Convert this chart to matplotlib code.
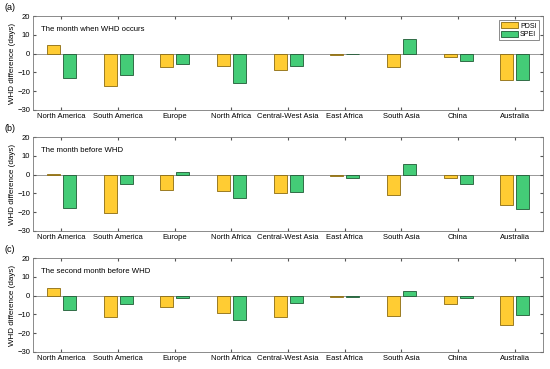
import numpy as np
import matplotlib.pyplot as plt

regions = ['North America', 'South America', 'Europe', 'North Africa',
           'Central-West Asia', 'East Africa', 'South Asia', 'China', 'Australia']

# WHD difference (days)
pdsi_a = [4.4, -17.0, -7.3, -6.7, -8.5, -0.9, -7.3, -1.8, -13.8]
spei_a = [-12.9, -11.2, -5.7, -15.6, -6.4, -0.4, 7.6, -3.7, -13.8]
pdsi_b = [0.4, -20.3, -8.1, -8.6, -9.9, -0.7, -11.0, -1.8, -16.0]
spei_b = [-18.0, -4.9, 1.6, -12.4, -9.0, -1.8, 5.6, -5.0, -18.3]
pdsi_c = [3.8, -11.6, -6.3, -9.5, -11.3, -0.9, -10.8, -4.5, -15.6]
spei_c = [-7.5, -4.7, -1.1, -12.9, -3.8, -0.9, 2.3, -1.1, -10.2]

titles = ['The month when WHD occurs', 'The month before WHD', 'The second month before WHD']
letters = ['(a)', '(b)', '(c)']
panels = [(pdsi_a, spei_a), (pdsi_b, spei_b), (pdsi_c, spei_c)]

yellow = '#FFCC33'
green = '#44CC77'

fig = plt.figure(figsize=(5.5, 3.69), dpi=100)
plt.rcParams['font.family'] = 'Liberation Sans'

tops = [0.9566, 0.6287, 0.3008]
h = 0.2547
x = np.arange(1, len(regions) + 1)
w = 0.23

for i, (pd_, sp_) in enumerate(panels):
    ax = fig.add_axes([0.06, tops[i] - h, 0.927, h])
    ax.bar(x - 0.135, pd_, w, color=yellow, edgecolor='#8a6a10', linewidth=0.6, label='PDSI')
    ax.bar(x + 0.145, sp_, w, color=green, edgecolor='#1f5a35', linewidth=0.6, label='SPEI')
    ax.axhline(0, color='#888888', linewidth=0.6, zorder=0)
    ax.set_xlim(0.5, 9.5)
    ax.set_ylim(-30, 20)
    ax.set_yticks([-30, -20, -10, 0, 10, 20])
    ax.set_xticks(x)
    ax.set_xticklabels(regions)
    ax.tick_params(direction='in', length=2.5, labelsize=5.5, top=True, right=True,
                   color='#555555', pad=2)
    for s in ax.spines.values():
        s.set_color('#777777')
        s.set_linewidth(0.6)
    ax.set_ylabel('WHD difference (days)', fontsize=5.8, labelpad=1)
    ax.text(0.016, 0.89, titles[i], transform=ax.transAxes, fontsize=5.6, va='top')
    fig.text(0.008, tops[i] + 0.012, letters[i], fontsize=6.5, va='bottom')
    if i == 0:
        leg = ax.legend(loc='upper right', fontsize=5, handlelength=2.4, handleheight=1.0,
                        borderpad=0.3, labelspacing=0.15, handletextpad=0.3,
                        fancybox=False, framealpha=1, borderaxespad=0.6)
        leg.get_frame().set_edgecolor('#777777')
        leg.get_frame().set_linewidth(0.6)

fig.savefig('out.png', dpi=100)
